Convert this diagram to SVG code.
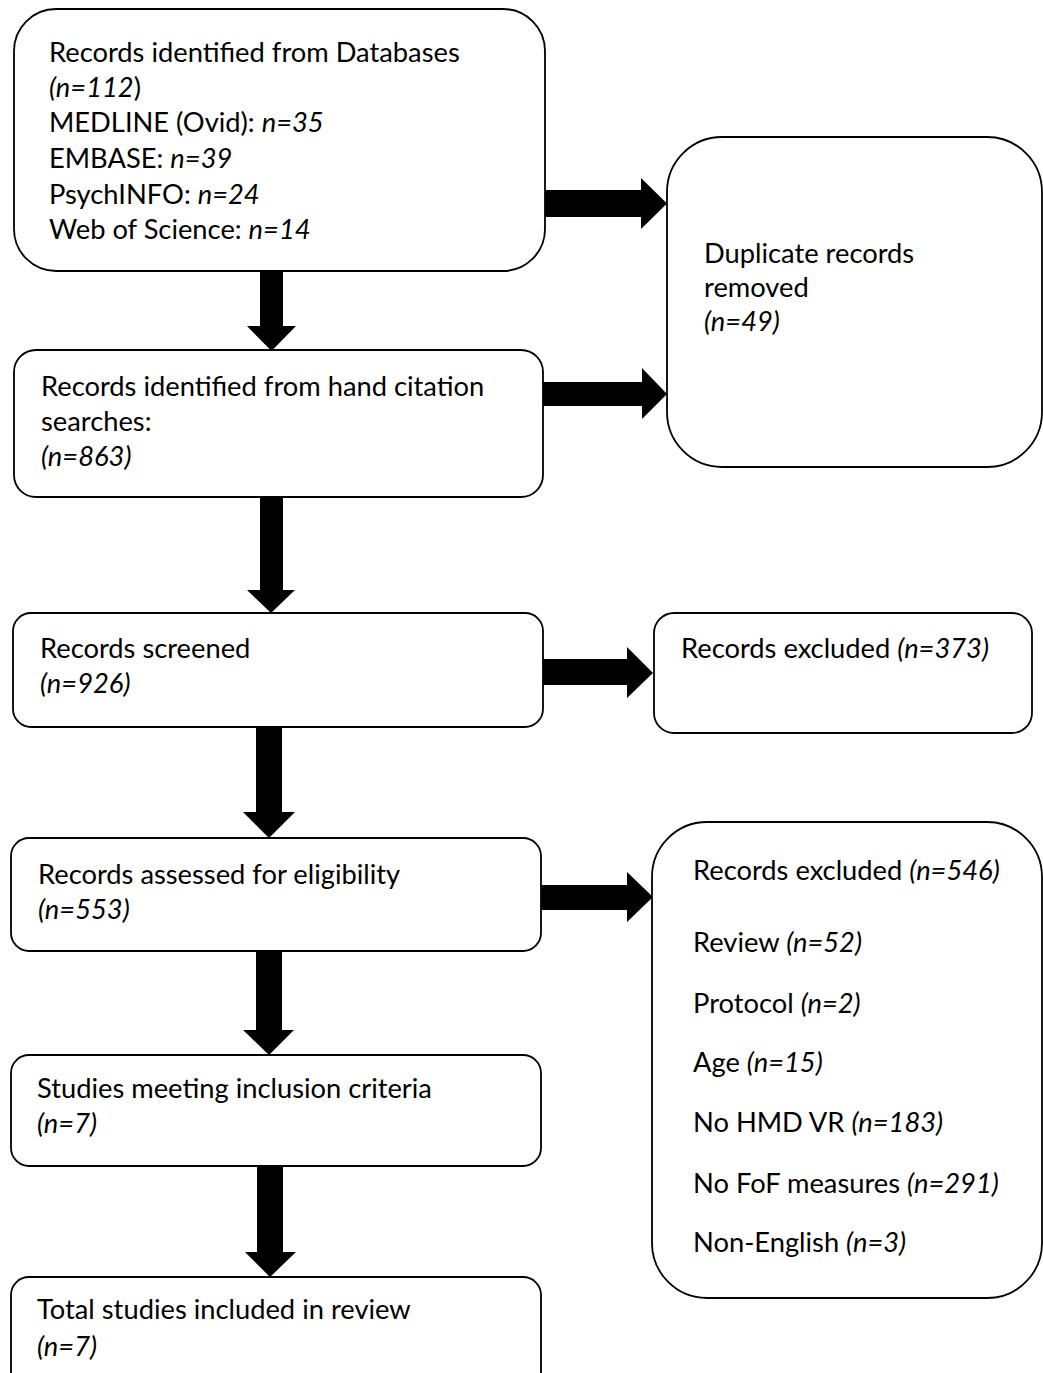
<svg xmlns="http://www.w3.org/2000/svg" width="1043" height="1373" viewBox="0 0 1043 1373">
<style>
.box{fill:#fff;stroke:#000;stroke-width:1.8}
.t{font-family:Lato,"Liberation Sans",sans-serif;font-size:27.3px;fill:#000}
.i{font-style:italic}
.arr{fill:#000;stroke:none}
</style>
<rect width="1043" height="1373" fill="#fff"/>
<g id="connectors">
<path class="arr" d="M260,270 H283 V326 H296 L271.5,351 L247,326 H260 Z"/>
<path class="arr" d="M260,497 H283 V590 H295 L271,613 L247,590 H260 Z"/>
<path class="arr" d="M256,727 H282 V812 H295 L269,838 L243,812 H256 Z"/>
<path class="arr" d="M256,951 H282 V1030 H294 L269,1055 L243,1030 H256 Z"/>
<path class="arr" d="M257,1166 H283 V1252 H296 L270,1277 L245,1252 H257 Z"/>
<path class="arr" d="M545,190 H641 V178 L667,203.5 L641,229 V217 H545 Z"/>
<path class="arr" d="M543,382 H642 V368 L667,394 L642,419 V406 H543 Z"/>
<path class="arr" d="M543,659 H627 V647 L653,673 L627,698 V685 H543 Z"/>
<path class="arr" d="M541,885 H627 V872 L653,897 L627,922 V910 H541 Z"/>
</g>
<g id="n1">
<rect class="box" x="14" y="9" width="531" height="262" rx="42"/>
<text class="t" x="49" y="62">Records identified from Databases</text>
<text class="t" x="49" y="97"><tspan class="i">(n=112</tspan>)</text>
<text class="t" x="49" y="132">MEDLINE (Ovid): <tspan class="i">n=35</tspan></text>
<text class="t" x="49" y="168">EMBASE: <tspan class="i">n=39</tspan></text>
<text class="t" x="49" y="204">PsychINFO: <tspan class="i">n=24</tspan></text>
<text class="t" x="49" y="239">Web of Science: <tspan class="i">n=14</tspan></text>
</g>
<g id="n2">
<rect class="box" x="14" y="350" width="529" height="147" rx="22"/>
<text class="t" x="41" y="396">Records identified from hand citation</text>
<text class="t" x="41" y="431">searches:</text>
<text class="t i" x="41" y="466">(n=863)</text>
</g>
<g id="n3">
<rect class="box" x="13" y="613" width="530" height="114" rx="18"/>
<text class="t" x="40" y="658">Records screened</text>
<text class="t i" x="40" y="693">(n=926)</text>
</g>
<g id="n4">
<rect class="box" x="11" y="838" width="530" height="113" rx="18"/>
<text class="t" x="38" y="884">Records assessed for eligibility</text>
<text class="t i" x="38" y="919">(n=553)</text>
</g>
<g id="n5">
<rect class="box" x="11" y="1055" width="530" height="111" rx="18"/>
<text class="t" x="37" y="1098">Studies meeting inclusion criteria</text>
<text class="t i" x="37" y="1133">(n=7)</text>
</g>
<g id="n6">
<rect class="box" x="11" y="1277" width="530" height="130" rx="18"/>
<text class="t" x="37" y="1319">Total studies included in review</text>
<text class="t i" x="37" y="1356">(n=7)</text>
</g>
<g id="n7">
<rect class="box" x="667" y="137" width="375" height="330" rx="55"/>
<text class="t" x="704" y="263">Duplicate records</text>
<text class="t" x="704" y="297">removed</text>
<text class="t i" x="704" y="331">(n=49)</text>
</g>
<g id="n8">
<rect class="box" x="654" y="613" width="378" height="120" rx="20"/>
<text class="t" x="681" y="658">Records excluded <tspan class="i">(n=373)</tspan></text>
</g>
<g id="n9">
<rect class="box" x="652" y="822" width="390" height="476" rx="55"/>
<text class="t" x="693" y="880">Records excluded <tspan class="i">(n=546)</tspan></text>
<text class="t" x="693" y="952">Review <tspan class="i">(n=52)</tspan></text>
<text class="t" x="693" y="1013">Protocol <tspan class="i">(n=2)</tspan></text>
<text class="t" x="693" y="1072">Age <tspan class="i">(n=15)</tspan></text>
<text class="t" x="693" y="1132">No HMD VR <tspan class="i">(n=183)</tspan></text>
<text class="t" x="693" y="1193">No FoF measures <tspan class="i">(n=291)</tspan></text>
<text class="t" x="693" y="1252">Non-English <tspan class="i">(n=3)</tspan></text>
</g>
</svg>
